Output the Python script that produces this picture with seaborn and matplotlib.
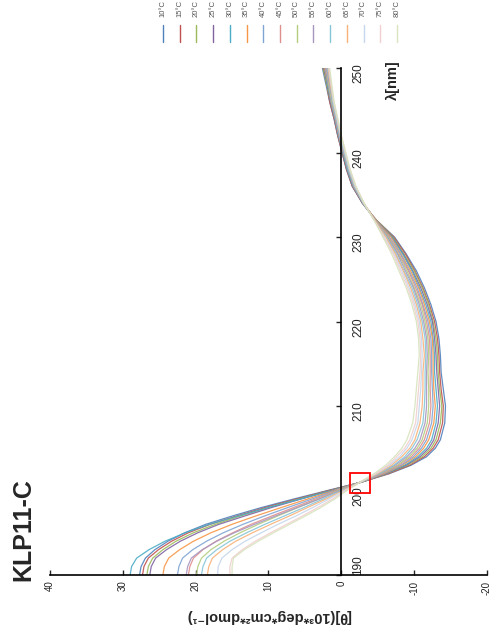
import numpy as np
import pandas as pd
import matplotlib
matplotlib.use('Agg')
import matplotlib.pyplot as plt
from matplotlib.patches import Rectangle
import seaborn as sns

# wavelength grid (nm) and ellipticity per temperature
wavelength = [190, 191, 192, 193, 194, 195, 196, 197, 198, 199, 200, 201, 202, 203, 204, 205, 206,
              208, 210, 212, 214, 216, 218, 220, 222, 224, 226, 228, 230, 232, 234, 236,
              238, 240, 242, 244, 246, 248, 250]

theta_10 = [27.7, 27.5, 26.9, 25.6, 23.8, 21.5, 18.6, 14.9, 10.9, 6.5, 1.9, -2.8, -6.6, -9.6, -11.7, -12.9, -13.6,
            -14.2, -14.3, -14.0, -13.7, -13.6, -13.4, -13.0, -12.3, -11.4, -10.3, -8.9, -7.3, -4.8, -2.9, -1.5,
            -0.7, -0.1, 0.5, 1.0, 1.6, 2.1, 2.6]
theta_15 = [27.3, 27.1, 26.5, 25.1, 23.3, 21.0, 18.0, 14.3, 10.4, 6.1, 1.7, -2.8, -6.5, -9.4, -11.4, -12.6, -13.3,
            -13.9, -14.0, -13.7, -13.5, -13.4, -13.2, -12.8, -12.1, -11.2, -10.1, -8.8, -7.2, -4.8, -2.9, -1.5,
            -0.7, -0.1, 0.5, 1.0, 1.6, 2.0, 2.5]
theta_20 = [26.7, 26.5, 25.9, 24.5, 22.7, 20.3, 17.3, 13.8, 9.9, 5.8, 1.5, -2.8, -6.3, -9.1, -11.1, -12.3, -13.0,
            -13.6, -13.8, -13.5, -13.3, -13.2, -13.0, -12.6, -12.0, -11.1, -10.0, -8.6, -7.1, -4.8, -2.9, -1.6,
            -0.8, -0.2, 0.4, 0.9, 1.5, 2.0, 2.5]
theta_25 = [26.3, 26.1, 25.5, 24.0, 22.1, 19.7, 16.8, 13.2, 9.5, 5.5, 1.4, -2.8, -6.2, -8.9, -10.8, -12.0, -12.7,
            -13.3, -13.5, -13.3, -13.1, -13.0, -12.8, -12.5, -11.8, -10.9, -9.8, -8.5, -7.0, -4.7, -2.9, -1.6,
            -0.8, -0.2, 0.4, 0.9, 1.5, 1.9, 2.4]
theta_30 = [29.0, 28.8, 28.1, 26.4, 24.2, 21.4, 18.1, 14.1, 10.0, 5.6, 1.2, -2.7, -6.0, -8.7, -10.5, -11.7, -12.4,
            -13.0, -13.2, -13.0, -12.8, -12.8, -12.6, -12.3, -11.6, -10.7, -9.7, -8.4, -6.9, -4.7, -3.0, -1.6,
            -0.8, -0.2, 0.4, 0.9, 1.4, 1.9, 2.3]
theta_35 = [24.5, 24.3, 23.7, 22.2, 20.3, 17.9, 15.0, 11.7, 8.2, 4.6, 1.0, -2.7, -5.9, -8.4, -10.2, -11.3, -12.0,
            -12.7, -12.9, -12.7, -12.6, -12.6, -12.5, -12.1, -11.4, -10.6, -9.5, -8.2, -6.8, -4.7, -3.0, -1.7,
            -0.9, -0.3, 0.3, 0.8, 1.4, 1.8, 2.3]
theta_40 = [22.5, 22.3, 21.8, 20.4, 18.5, 16.2, 13.5, 10.5, 7.3, 4.0, 0.8, -2.7, -5.7, -8.2, -9.9, -11.0, -11.7,
            -12.4, -12.6, -12.5, -12.4, -12.4, -12.3, -11.9, -11.2, -10.4, -9.3, -8.1, -6.6, -4.7, -3.0, -1.7,
            -0.9, -0.3, 0.3, 0.8, 1.4, 1.8, 2.2]
theta_45 = [21.0, 20.8, 20.3, 19.0, 17.2, 14.9, 12.4, 9.5, 6.5, 3.5, 0.6, -2.7, -5.6, -7.9, -9.6, -10.7, -11.4,
            -12.1, -12.3, -12.2, -12.2, -12.2, -12.1, -11.7, -11.1, -10.2, -9.2, -7.9, -6.5, -4.7, -3.0, -1.7,
            -1.0, -0.3, 0.3, 0.8, 1.3, 1.7, 2.1]
theta_50 = [19.9, 19.7, 19.2, 17.9, 16.1, 13.9, 11.4, 8.7, 5.9, 3.1, 0.4, -2.7, -5.4, -7.7, -9.3, -10.4, -11.1,
            -11.8, -12.0, -12.0, -11.9, -12.0, -11.9, -11.5, -10.9, -10.0, -9.0, -7.8, -6.4, -4.6, -3.0, -1.8,
            -1.0, -0.4, 0.2, 0.7, 1.3, 1.7, 2.0]
theta_55 = [21.3, 21.1, 20.6, 19.1, 17.1, 14.7, 11.9, 9.0, 6.0, 3.0, 0.2, -2.7, -5.3, -7.4, -9.0, -10.1, -10.8,
            -11.5, -11.7, -11.7, -11.7, -11.8, -11.7, -11.3, -10.7, -9.9, -8.8, -7.7, -6.3, -4.6, -3.0, -1.8,
            -1.0, -0.4, 0.2, 0.7, 1.2, 1.6, 2.0]
theta_60 = [19.2, 19.0, 18.5, 17.1, 15.3, 13.0, 10.5, 7.8, 5.1, 2.5, 0.0, -2.7, -5.2, -7.2, -8.7, -9.7, -10.4,
            -11.2, -11.4, -11.5, -11.5, -11.6, -11.5, -11.1, -10.5, -9.7, -8.6, -7.5, -6.2, -4.6, -3.0, -1.8,
            -1.0, -0.4, 0.2, 0.7, 1.2, 1.5, 1.9]
theta_65 = [18.4, 18.2, 17.7, 16.3, 14.5, 12.2, 9.7, 7.1, 4.6, 2.1, -0.2, -2.6, -5.0, -6.9, -8.3, -9.4, -10.1,
            -10.8, -11.1, -11.2, -11.2, -11.4, -11.2, -10.9, -10.3, -9.5, -8.5, -7.4, -6.1, -4.6, -3.1, -1.9,
            -1.1, -0.5, 0.1, 0.6, 1.1, 1.5, 1.8]
theta_70 = [17.0, 16.9, 16.4, 15.0, 13.2, 11.0, 8.7, 6.2, 3.9, 1.7, -0.4, -2.6, -4.8, -6.6, -8.0, -9.0, -9.7,
            -10.5, -10.7, -10.9, -11.0, -11.1, -11.0, -10.7, -10.1, -9.3, -8.3, -7.2, -5.9, -4.5, -3.1, -1.9,
            -1.1, -0.5, 0.1, 0.6, 1.1, 1.4, 1.7]
theta_75 = [15.3, 15.3, 15.0, 13.6, 11.8, 9.7, 7.5, 5.3, 3.2, 1.2, -0.6, -2.6, -4.7, -6.4, -7.6, -8.7, -9.4,
            -10.2, -10.4, -10.6, -10.8, -10.9, -10.8, -10.5, -9.9, -9.1, -8.1, -7.1, -5.8, -4.5, -3.1, -2.0,
            -1.2, -0.6, 0.0, 0.5, 1.0, 1.4, 1.7]
theta_80 = [15.0, 15.0, 14.8, 13.3, 11.4, 9.3, 7.1, 4.9, 2.8, 0.9, -0.8, -2.6, -4.5, -6.1, -7.3, -8.3, -9.0,
            -9.8, -10.1, -10.3, -10.5, -10.7, -10.6, -10.3, -9.7, -8.9, -7.9, -6.9, -5.7, -4.5, -3.1, -2.0,
            -1.2, -0.6, 0.0, 0.5, 1.0, 1.3, 1.6]

temps = ['10°C', '15°C', '20°C', '25°C', '30°C', '35°C', '40°C', '45°C',
         '50°C', '55°C', '60°C', '65°C', '70°C', '75°C', '80°C']
series = [theta_10, theta_15, theta_20, theta_25, theta_30, theta_35, theta_40, theta_45,
          theta_50, theta_55, theta_60, theta_65, theta_70, theta_75, theta_80]

colors = ['#4F81BD', '#C0504D', '#9BBB59', '#8064A2', '#4BACC6', '#F79646',
          '#7FA4D4', '#DD8F8D', '#B3CD7F', '#A896C0', '#86C6D8', '#F9B27A',
          '#C6D6EC', '#F0CFCE', '#D7E4BD']

# isodichroic point highlighted with a red box (theta range, wavelength range)
box_theta = (-1.2, -3.9)
box_wl = (199.7, 202.1)

rows = []
for t, vals in zip(temps, series):
    for wl, v in zip(wavelength, vals):
        rows.append({'temp': t, 'wavelength': wl, 'theta': v})
df = pd.DataFrame(rows)

sns.set_style('white')
plt.rcParams['font.family'] = ['Liberation Sans', 'DejaVu Sans']

W, H = 492, 636
fig = plt.figure(figsize=(W / 100, H / 100), dpi=100)
ax = fig.add_axes([50 / W, 61 / H, 437 / W, 507 / H])

# the whole chart is turned a quarter turn: theta runs horizontally, wavelength vertically
sns.lineplot(data=df, x='theta', y='wavelength', hue='temp', hue_order=temps,
             palette=colors, orient='y', sort=True, errorbar=None, legend=False,
             linewidth=0.9, alpha=0.9, ax=ax)

ax.add_patch(Rectangle((box_theta[0], box_wl[0]), box_theta[1] - box_theta[0],
                       box_wl[1] - box_wl[0], fill=False, edgecolor='red', linewidth=1.3, zorder=5))

ax.set_xlim(40, -20)
ax.set_ylim(190, 250)

for s in ['top', 'left']:
    ax.spines[s].set_visible(False)
ax.spines['right'].set_position(('data', 0))
ax.spines['right'].set_color('black')
ax.spines['right'].set_linewidth(1.2)
ax.spines['bottom'].set_color('black')
ax.spines['bottom'].set_linewidth(1.2)

ax.set_xticks([40, 30, 20, 10, 0, -10, -20])
ax.set_xticklabels(['40', '30', '20', '10', '0', '-10', '-20'], rotation=90, fontsize=7, color='#222222')
ax.tick_params(axis='x', direction='in', length=3.5, width=1, pad=4, bottom=True)

ax.yaxis.tick_right()
ax.set_yticks([190, 200, 210, 220, 230, 240, 250])
ax.set_yticklabels(['190', '200', '210', '220', '230', '240', '250'], rotation=90, fontsize=8.5, color='#222222')
ax.tick_params(axis='y', direction='in', length=3.5, width=1, pad=8, right=True, left=False)
ax.get_yticklabels()[0].set_va('bottom')

ax.set_xlabel('[θ](10³*deg*cm²*dmol⁻¹)', rotation=180, fontsize=10.5, fontweight='bold', va='center')
ax.xaxis.set_label_coords(0.5, (575 - 616) / 507)
ax.set_ylabel('λ[nm]', rotation=90, fontsize=10.5, fontweight='bold', va='center', ha='center')
ax.yaxis.set_label_position('right')
ax.yaxis.set_label_coords((386 - 50) / 437, (575 - 80) / 507)
ax.grid(False)

fig.text(23 / W, 1 - 530 / H, 'KLP11-C', rotation=90, fontsize=18, fontweight='bold',
         ha='center', va='center')

# legend laid out along the top, one vertical swatch per temperature
lax = fig.add_axes([155 / W, 1 - 50 / H, 250 / W, 50 / H])
lax.set_xlim(-0.48, 14.48)
lax.set_ylim(50, 0)
lax.axis('off')
for i, (t, c) in enumerate(zip(temps, colors)):
    lax.plot([i, i], [25, 42], color=c, linewidth=1.0)
    lax.text(i, 17, t, rotation=90, fontsize=5.5, color='#555555', ha='center', va='bottom')

fig.savefig('out.png', dpi=100)
